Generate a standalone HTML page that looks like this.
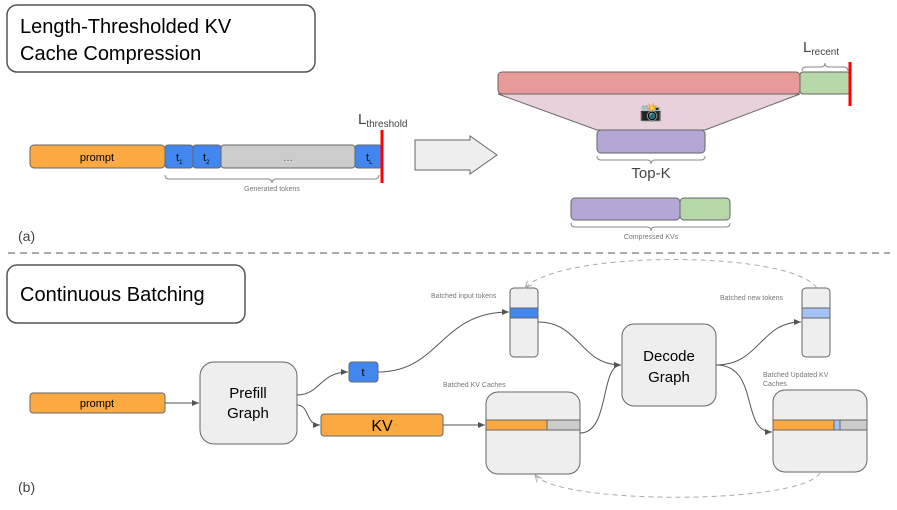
<!DOCTYPE html><html><head><style>body{margin:0;background:#fff}svg text{font-family:"Liberation Sans",sans-serif}</style></head><body>
<svg width="897" height="505" viewBox="0 0 897 505" xmlns="http://www.w3.org/2000/svg">
<defs><marker id="a" markerWidth="8" markerHeight="8" refX="7" refY="4" orient="auto"><path d="M0,1L7,4L0,7z" fill="#555"/></marker>
<marker id="b" markerWidth="8" markerHeight="8" refX="7" refY="4" orient="auto"><path d="M0,1L7,4L0,7" fill="none" stroke="#aaa"/></marker></defs>
<g stroke="#666" stroke-width="1">
<rect x="7" y="5" width="308" height="67" rx="10" fill="#fff" stroke="#555" stroke-width="1.5"/>
<rect x="30" y="145" width="135" height="23" rx="4" fill="#fba940"/>
<rect x="165" y="145" width="28" height="23" rx="3" fill="#4286f0"/>
<rect x="193" y="145" width="28" height="23" rx="3" fill="#4286f0"/>
<rect x="221" y="145" width="134" height="23" rx="3" fill="#cccccc"/>
<rect x="355" y="145" width="27" height="23" rx="3" fill="#4286f0"/>
<path d="M165,175q0,4 4,4h99q4,0 4,4q0-4 4-4h99q4,0 4-4" fill="none" stroke="#888"/>
<path d="M415,140h55v-4l27,19l-27,19v-4h-55z" fill="#eee"/>
<path d="M498,94L800,94L705,130L597,130z" fill="#e8d0dc"/>
<rect x="498" y="72" width="302" height="22" rx="4" fill="#e89a98"/>
<rect x="800" y="72" width="50" height="22" rx="3" fill="#b6d7a8"/>
<path d="M802,71q0-4 4-4h15q4,0 4-4q0,4 4,4h15q4,0 4,4" fill="none" stroke="#888"/>
<rect x="597" y="130" width="108" height="23" rx="4" fill="#b4a7d6"/>
<path d="M597,156q0,4 4,4h46q4,0 4,4q0-4 4-4h46q4,0 4-4" fill="none" stroke="#888"/>
<rect x="571" y="198" width="109" height="22" rx="4" fill="#b4a7d6"/>
<rect x="680" y="198" width="50" height="22" rx="4" fill="#b6d7a8"/>
<path d="M571,223q0,4 4,4h72q4,0 4,4q0-4 4-4h71q4,0 4-4" fill="none" stroke="#888"/>
</g>
<line x1="382" y1="130" x2="382" y2="183" stroke="#f00" stroke-width="3"/>
<line x1="850" y1="62" x2="850" y2="106" stroke="#f00" stroke-width="3"/>
<text x="20" y="33" font-size="20">Length-Thresholded KV</text>
<text x="20" y="60" font-size="20">Cache Compression</text>
<text x="97" y="161" font-size="11" text-anchor="middle">prompt</text>
<text x="176" y="161" font-size="11">t<tspan font-size="6" dy="3">1</tspan></text>
<text x="203" y="161" font-size="11">t<tspan font-size="6" dy="3">2</tspan></text>
<text x="288" y="161" font-size="10" text-anchor="middle" fill="#555">…</text>
<text x="366" y="161" font-size="11">t<tspan font-size="6" dy="3">L</tspan></text>
<text x="358" y="124" font-size="15" fill="#444">L<tspan font-size="10" dy="3">threshold</tspan></text>
<text x="272" y="191" font-size="7" fill="#777" text-anchor="middle">Generated tokens</text>
<text x="18" y="241" font-size="14" fill="#444">(a)</text>
<text x="803" y="52" font-size="15" fill="#444">L<tspan font-size="10" dy="3">recent</tspan></text>
<text x="651" y="118" font-size="18" text-anchor="middle">📸</text>
<text x="651" y="178" font-size="15" fill="#444" text-anchor="middle">Top-K</text>
<text x="651" y="239" font-size="7" fill="#777" text-anchor="middle">Compressed KVs</text>
<line x1="8" y1="253" x2="890" y2="253" stroke="#aaa" stroke-width="2" stroke-dasharray="7,5"/>
<g stroke="#666">
<rect x="7" y="265" width="238" height="58" rx="10" fill="#fff" stroke="#555" stroke-width="1.5"/>
<rect x="30" y="393" width="135" height="20" rx="3" fill="#fba940"/>
<rect x="200" y="362" width="97" height="82" rx="14" fill="#eee"/>
<rect x="349" y="362" width="29" height="20" rx="3" fill="#4286f0"/>
<rect x="321" y="414" width="122" height="22" rx="3" fill="#fba940"/>
<rect x="510" y="288" width="28" height="69" rx="4" fill="#eee"/>
<rect x="510" y="308" width="28" height="10" fill="#4286f0"/>
<rect x="486" y="392" width="94" height="82" rx="12" fill="#eee"/>
<rect x="486" y="420" width="61" height="10" fill="#fba940"/>
<rect x="547" y="420" width="33" height="10" fill="#ccc"/>
<rect x="622" y="324" width="94" height="82" rx="12" fill="#eee"/>
<rect x="802" y="288" width="28" height="69" rx="4" fill="#eee"/>
<rect x="802" y="308" width="28" height="10" fill="#a4c2f4"/>
<rect x="773" y="390" width="94" height="82" rx="12" fill="#eee"/>
<rect x="773" y="420" width="61" height="10" fill="#fba940"/>
<rect x="834" y="420" width="6" height="10" fill="#a4c2f4"/>
<rect x="840" y="420" width="27" height="10" fill="#ccc"/>
</g>
<g fill="none" stroke="#555" marker-end="url(#a)">
<path d="M165,403H199"/>
<path d="M297,395C320,395 320,372 348,372"/>
<path d="M297,405C310,405 305,425 320,425"/>
<path d="M378,372C440,372 440,312 509,312"/>
<path d="M443,425H485"/>
<path d="M538,322C580,322 580,365 621,365"/>
<path d="M580,433C610,433 600,365 621,365"/>
<path d="M716,365C760,365 760,322 801,322"/>
<path d="M716,365C760,365 740,432 772,432"/>
</g>
<g fill="none" stroke="#aaa" stroke-dasharray="5,4" marker-end="url(#b)">
<path d="M817,288C790,250 560,250 525,288"/>
<path d="M820,473C800,505 560,505 535,475"/>
</g>
<text x="20" y="301" font-size="20">Continuous Batching</text>
<text x="97" y="407" font-size="11" text-anchor="middle">prompt</text>
<text x="248" y="398" font-size="15" text-anchor="middle">Prefill</text>
<text x="248" y="418" font-size="15" text-anchor="middle">Graph</text>
<text x="363" y="376" font-size="11" text-anchor="middle">t</text>
<text x="382" y="431" font-size="16" text-anchor="middle">KV</text>
<text x="669" y="361" font-size="15" text-anchor="middle">Decode</text>
<text x="669" y="382" font-size="15" text-anchor="middle">Graph</text>
<text x="431" y="298" font-size="7" fill="#777">Batched input tokens</text>
<text x="443" y="387" font-size="7" fill="#777">Batched KV Caches</text>
<text x="720" y="300" font-size="7" fill="#777">Batched new tokens</text>
<text x="763" y="377" font-size="7" fill="#777">Batched Updated KV</text>
<text x="763" y="386" font-size="7" fill="#777">Caches</text>
<text x="18" y="492" font-size="14" fill="#444">(b)</text>
</svg></body></html>
